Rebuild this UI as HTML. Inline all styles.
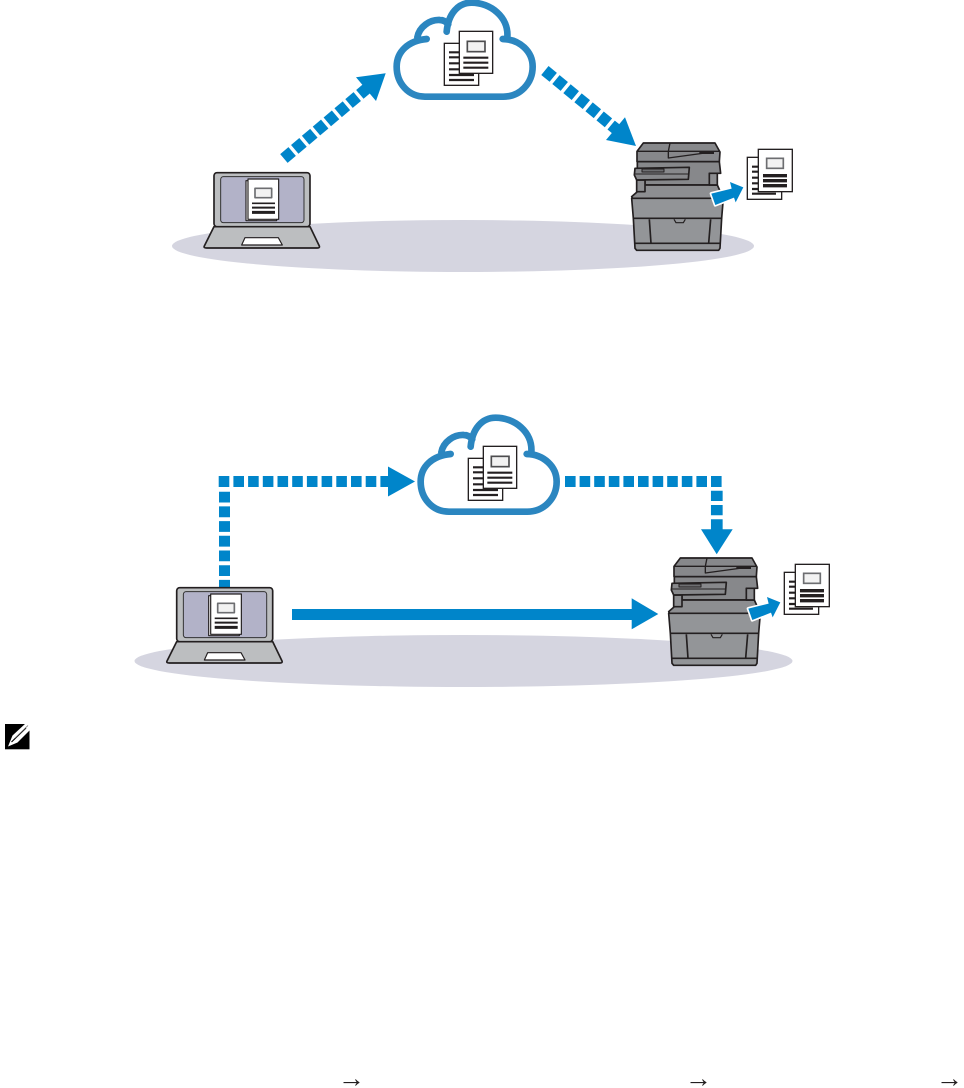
<!DOCTYPE html>
<html>
<head>
<meta charset="utf-8">
<style>
html,body{margin:0;padding:0;background:#fff;width:964px;height:1088px;overflow:hidden}
svg{display:block}
</style>
</head>
<body>
<svg width="964" height="1088" viewBox="0 0 964 1088" xmlns="http://www.w3.org/2000/svg">
<defs>
<g id="cloud" transform="scale(.3333)" fill="none" stroke="#2b86c0" stroke-width="20" stroke-linecap="round">
  <path d="M140 117C85 122 50 155 50 200C50 250 85 290 135 290L370 290C420 290 458 250 458 200C458 155 420 118 368 117"/>
  <path d="M382 112C387 50 330 8 275 8C235 8 205 40 200 95"/>
  <path d="M112 112C118 80 150 58 180 60C190 60 198 65 205 72"/>
</g>
<g id="cdocs" transform="scale(.3333)">
  <rect x="193" y="130" width="103" height="126" fill="#fff" stroke="#231f20" stroke-width="4"/>
  <path d="M207 157H240M207 172H240M207 190H240M207 208H240M207 225H282M207 240H282" stroke="#231f20" stroke-width="6.500"/>
  <rect x="238" y="94" width="100" height="126" fill="#fff" stroke="#231f20" stroke-width="4"/>
  <rect x="262" y="124" width="53" height="31" fill="#f2f2f2" stroke="#4d4d4f" stroke-width="5"/>
  <path d="M250 173H325M250 188H325M250 203H325" stroke="#231f20" stroke-width="6.500"/>
</g>
<g id="printer" transform="scale(.3333)" stroke="#231f20" stroke-width="5" stroke-linejoin="round">
  <path d="M51 95V64L70 39H285L300 66L298 95Z" fill="#87888b"/>
  <path d="M51 64H300M150 39L145 64V84L255 69" fill="none" stroke-width="4"/>
  <path d="M238 69H282" fill="none" stroke-width="6"/>
  <path d="M52 95H298L302 130H268L268 165H75L75 150L52 130Z" fill="#87888b"/>
  <path d="M75 165L35 200L38 205L310 205L292 165Z" fill="#8d8e91"/>
  <path d="M50 150H75V185H50Z" fill="#8d8e91"/>
  <path d="M268 130H292V165H268Z" fill="#8d8e91"/>
  <path d="M45 115L208 112L205 148L50 150L43 135Z" fill="#87888b"/>
  <path d="M66 117H132V126H66Z" fill="#6d6e71" stroke-width="3"/>
  <path d="M44 132H205" fill="none" stroke-width="3"/>
  <path d="M35 205L40 265H305L310 205Z" fill="#939598"/>
  <path d="M40 265L45 355L50 361H296L300 355L305 265Z" fill="#939598"/>
  <path d="M88 268L93 340H266L272 268M45 340H300" fill="none"/>
  <path d="M162 268L168 278H190L196 268" fill="#939598" stroke-width="3.500"/>
  <path d="M274 191L335 176L330 156L370 172L347 217L342 203L286 225Z" fill="#0085ca" stroke="#fff" stroke-width="10"/>
  <path d="M274 191L335 176L330 156L370 172L347 217L342 203L286 225Z" fill="#0085ca" stroke="none"/>
</g>
<g id="pdocs" transform="scale(.3333)">
  <rect x="382" y="82" width="103" height="126" fill="#fff" stroke="#231f20" stroke-width="4"/>
  <path d="M396 110H415M396 125H415M396 143H415M396 160H415M396 177H415M396 191H468" stroke="#231f20" stroke-width="6.500"/>
  <rect x="415" y="58" width="102" height="127" fill="#fff" stroke="#231f20" stroke-width="4"/>
  <rect x="440" y="85" width="50" height="30" fill="#f2f2f2" stroke="#6d6e71" stroke-width="5"/>
  <path d="M429 137H501M429 152H501M429 167H501" stroke="#231f20" stroke-width="10"/>
</g>
<g id="laptop" transform="scale(.3333)" stroke-linejoin="round">
  <path d="M72 200H360L388 258Q390 264 382 264H50Q40 264 43 258Z" fill="#bcbec0" stroke="#231f20" stroke-width="5"/>
  <rect x="72" y="38" width="288" height="162" rx="9" fill="#bcbec0" stroke="#231f20" stroke-width="5"/>
  <rect x="92" y="50" width="250" height="138" rx="8" fill="#b2b2c8" stroke="#333" stroke-width="3"/>
  <path d="M165 233H265L277 255H155Z" fill="#fff" stroke="#231f20" stroke-width="3.500"/>
  <rect x="168" y="62" width="92" height="120" fill="#fff" stroke="#231f20" stroke-width="3.500"/>
  <rect x="174" y="57" width="92" height="121" fill="#fff" stroke="#231f20" stroke-width="3.500"/>
  <rect x="195" y="85" width="50" height="28" fill="#f2f2f2" stroke="#6d6e71" stroke-width="5"/>
  <path d="M186 130H255" stroke="#231f20" stroke-width="5"/>
  <path d="M186 143H255" stroke="#231f20" stroke-width="6"/>
  <path d="M186 157H255" stroke="#231f20" stroke-width="9"/>
</g>
</defs>

<ellipse cx="463" cy="246" rx="291" ry="26" fill="#d5d5e0"/>
<ellipse cx="463.5" cy="661" rx="329" ry="26" fill="#d5d5e0"/>

<!-- top scene -->
<use href="#cloud" transform="translate(380,0)"/>
<use href="#cdocs" transform="translate(380,0)"/>
<path d="M283.900 158.500L368 87.500" fill="none" stroke="#0085ca" stroke-width="11.500" stroke-dasharray="10.800 3.400"/>
<path d="M385.700 73.300L356 77.300L376 101Z" fill="#0085ca"/>
<path d="M544.900 70.500L616 129" fill="none" stroke="#0085ca" stroke-width="11.500" stroke-dasharray="10.800 3.500"/>
<path d="M636 146L606 140L625 117.300Z" fill="#0085ca"/>
<use href="#laptop" transform="translate(190,160)"/>
<use href="#printer" transform="translate(620,130)"/>
<use href="#pdocs" transform="translate(620,130)"/>

<!-- bottom scene -->
<use href="#cloud" transform="translate(404,415)"/>
<use href="#cdocs" transform="translate(404,415)"/>
<path d="M224.500 491.700V590" fill="none" stroke="#0085ca" stroke-width="11" stroke-dasharray="10.800 3.900"/>
<path d="M218.700 481.500H389" fill="none" stroke="#0085ca" stroke-width="11" stroke-dasharray="10.600 4.100"/>
<path d="M415 481.500L388 466.500V496.500Z" fill="#0085ca"/>
<path d="M565 481.500H722" fill="none" stroke="#0085ca" stroke-width="11" stroke-dasharray="10.600 4"/>
<path d="M716.800 490.700V531" fill="none" stroke="#0085ca" stroke-width="11.700" stroke-dasharray="10.300 4"/>
<path d="M716.700 554.300L701 529.300H732.700Z" fill="#0085ca"/>
<path d="M292 614.500H633" fill="none" stroke="#0085ca" stroke-width="11"/>
<path d="M658.300 614L631.700 598.300V629.300Z" fill="#0085ca"/>
<use href="#laptop" transform="translate(152.700,575)"/>
<use href="#printer" transform="translate(657,545)"/>
<use href="#pdocs" transform="translate(657,545)"/>

<!-- note icon -->
<rect x="5" y="724" width="24.500" height="25.300" fill="#000"/>
<path d="M8 746.500L12.500 735.500L25.500 723.500L29.500 724V730.500L17.500 742.500Z" fill="#fff"/>
<path d="M11.500 742L26 728" stroke="#000" stroke-width="1.200"/>
<path d="M15 738L28 725.500" stroke="#777" stroke-width=".8"/>

<!-- menu arrows -->
<g font-family="'Liberation Serif','DejaVu Sans',serif" font-size="27" fill="#231f20">
<text x="338" y="1087">→</text>
<text x="685" y="1087">→</text>
<text x="936" y="1087">→</text>
</g>
</svg>
</body>
</html>
